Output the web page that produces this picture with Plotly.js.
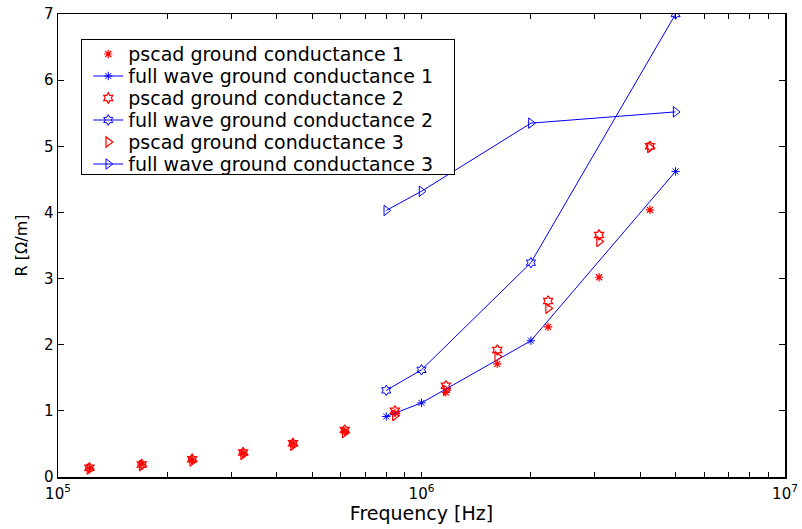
<!DOCTYPE html>
<html>
<head>
<meta charset="utf-8">
<script src="https://cdn.plot.ly/plotly-3.0.1.min.js"></script>
<style>html,body{margin:0;padding:0;background:#fff;}#chart{width:802px;height:529px;}</style>
</head>
<body>
<div id="chart"></div>
<script>
// Data
const freqPscad = [1.22e5, 1.70e5, 2.34e5, 3.23e5, 4.43e5, 6.15e5, 8.45e5, 1.167e6, 1.616e6, 2.23e6, 3.08e6, 4.25e6];
const pscad1 = [0.13, 0.19, 0.26, 0.36, 0.50, 0.69, 0.97, 1.28, 1.71, 2.27, 3.02, 4.04];
const pscad2 = [0.14, 0.19, 0.27, 0.37, 0.51, 0.71, 1.00, 1.38, 1.92, 2.66, 3.66, 5.00];
const pscad3 = [0.12, 0.17, 0.24, 0.34, 0.48, 0.67, 0.93, 1.31, 1.82, 2.55, 3.56, 4.98];
const freqFull = [8e5, 1e6, 2e6, 5e6];
const full1 = [0.915, 1.12, 2.06, 4.62];
const full2 = [1.31, 1.62, 3.24, 7.0];
const full3 = [4.03, 4.32, 5.35, 5.52];
const names = ['pscad ground conductance 1', 'full wave ground conductance 1',
               'pscad ground conductance 2', 'full wave ground conductance 2',
               'pscad ground conductance 3', 'full wave ground conductance 3'];
// log ticks: decades labelled, intermediate digits unlabelled
const xTickVals = [1e5, 2e5, 3e5, 4e5, 5e5, 6e5, 7e5, 8e5, 9e5,
                   1e6, 2e6, 3e6, 4e6, 5e6, 6e6, 7e6, 8e6, 9e6, 1e7];
const xTickText = ['10<sup>5</sup>', '', '', '', '', '', '', '', '',
                   '10<sup>6</sup>', '', '', '', '', '', '', '', '', '10<sup>7</sup>'];
const yTickVals = [0, 1, 2, 3, 4, 5, 6, 7];

const RED = '#ff0000', BLUE = '#0000ff';
function pscad(y, name, sym, size) {
  return {x: freqPscad, y: y, name: name, mode: 'markers', type: 'scatter',
    marker: {symbol: sym, size: size, color: RED, line: {color: RED, width: 1.2}}};
}
function full(y, name, sym, size) {
  return {x: freqFull, y: y, name: name, mode: 'lines+markers', type: 'scatter',
    line: {color: BLUE, width: 1},
    marker: {symbol: sym, size: size, color: BLUE, line: {color: BLUE, width: 1}}};
}
const data = [
  pscad(pscad1, names[0], 'asterisk-open', 7),
  full(full1, names[1], 'asterisk-open', 7),
  pscad(pscad2, names[2], 'hexagram-open', 8),
  full(full2, names[3], 'hexagram-open', 8),
  pscad(pscad3, names[4], 'triangle-right-open', 9),
  full(full3, names[5], 'triangle-right-open', 9)
];
const FONT = 'DejaVu Sans, Arial, sans-serif';
const layout = {
  width: 802, height: 529,
  margin: {l: 58, r: 17, t: 14, b: 52},
  paper_bgcolor: '#fff', plot_bgcolor: '#fff',
  font: {family: FONT, color: '#000', size: 15},
  showlegend: true,
  legend: {x: 0.032, y: 0.946, xanchor: 'left', yanchor: 'top',
    bgcolor: '#fff', bordercolor: '#000', borderwidth: 1,
    font: {family: FONT, size: 19, color: '#000'}},
  xaxis: {type: 'log', range: [5, 7], tickmode: 'array', tickvals: xTickVals, ticktext: xTickText,
    ticks: 'inside', ticklen: 5, tickcolor: '#000', showgrid: false, zeroline: false,
    showline: true, linecolor: '#000', linewidth: 1.5, mirror: 'allticks', ticklabelstandoff: 2,
    tickfont: {family: FONT, size: 15, color: '#000'},
    title: {text: 'Frequency [Hz]', standoff: 4, font: {family: FONT, size: 19, color: '#000'}}},
  yaxis: {range: [0, 7], tickmode: 'array', tickvals: yTickVals,
    ticks: 'inside', ticklen: 6, tickcolor: '#000', showgrid: false, zeroline: false,
    showline: true, linecolor: '#000', linewidth: 1.5, mirror: 'allticks',
    tickfont: {family: FONT, size: 15, color: '#000'},
    title: {text: 'R [Ω/m]', standoff: 12, font: {family: FONT, size: 16, color: '#000'}}}
};
Plotly.newPlot('chart', data, layout, {displayModeBar: false, staticPlot: true}).then(function (gd) {
  // compact the legend rows to the reference's spacing and widen its box
  const lg = gd.querySelector('g.legend');
  if (!lg) return;
  const items = lg.querySelectorAll('g.traces');
  const ROW = 22, FIRST = 15, SHIFT = 6;
  items.forEach(function (g, i) {
    const t = g.getAttribute('transform') || '';
    const m = t.match(/translate\(\s*([-\d.e]+)[ ,]+([-\d.e]+)\s*\)/);
    const x = m ? parseFloat(m[1]) : 0;
    g.setAttribute('transform', 'translate(' + (x + SHIFT) + ',' + (FIRST + ROW * i) + ')');
  });
  const bg = lg.querySelector('rect.bg');
  if (bg) { bg.setAttribute('width', 373); bg.setAttribute('height', 135); }
  lg.querySelectorAll('clipPath rect, defs rect').forEach(function (r) {
    r.setAttribute('width', 400); r.setAttribute('height', 200);
  });
});
</script>
</body>
</html>
